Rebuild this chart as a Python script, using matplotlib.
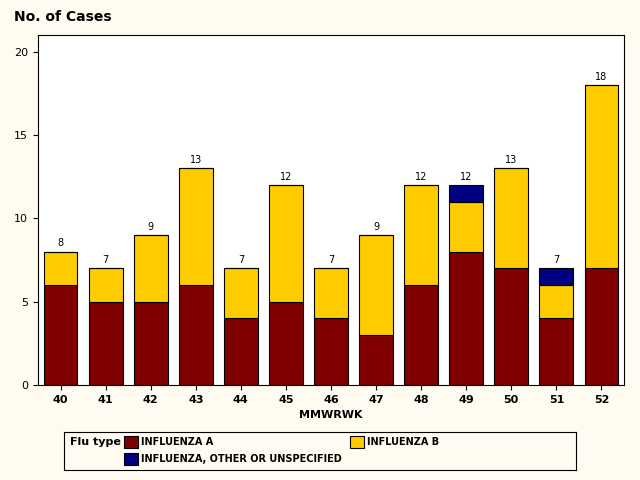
import matplotlib
matplotlib.use("Agg")
from matplotlib import pyplot as plt
from matplotlib.patches import Rectangle

weeks = ["40", "41", "42", "43", "44", "45", "46", "47", "48", "49", "50", "51", "52"]
flu_a = [6, 5, 5, 6, 4, 5, 4, 3, 6, 8, 7, 4, 7]
flu_b = [2, 2, 4, 7, 3, 7, 3, 6, 6, 3, 6, 2, 11]
flu_other = [0, 0, 0, 0, 0, 0, 0, 0, 0, 1, 0, 1, 0]

bg = "#fffbf0"
fig = plt.figure(figsize=(6.4, 4.8), dpi=100, facecolor=bg)
ax = fig.add_axes([38 / 640, 1 - 385 / 480, 586 / 640, 350 / 480])
ax.set_facecolor("white")

x = list(range(len(weeks)))
w = 0.75
ax.bar(x, flu_a, w, color="#800000", edgecolor="black", linewidth=0.8)
ax.bar(x, flu_b, w, bottom=flu_a, color="#ffcc00", edgecolor="black", linewidth=0.8)
bot = [a + b for a, b in zip(flu_a, flu_b)]
ax.bar(x, flu_other, w, bottom=bot, color="#000080", edgecolor="black", linewidth=0.8)
for i in x:
    tot = bot[i] + flu_other[i]
    ax.text(i, tot + 0.2, str(tot), ha="center", va="bottom", fontsize=7)

ax.set_xlim(-0.5, len(weeks) - 0.5)
ax.set_ylim(0, 21)
ax.set_xticks(x)
ax.set_xticklabels(weeks, fontsize=8, fontweight="bold")
ax.set_yticks([0, 5, 10, 15, 20])
ax.tick_params(axis="y", labelsize=8)
ax.set_xlabel("MMWRWK", fontsize=8, fontweight="bold")
fig.text(14 / 640, 1 - 17 / 480, "No. of Cases", fontsize=10, fontweight="bold", va="center")

# legend box
lg = fig.add_axes([64 / 640, 1 - 470 / 480, 512 / 640, 38 / 480])
lg.set_xlim(0, 512)
lg.set_ylim(38, 0)
lg.set_xticks([])
lg.set_yticks([])
lg.set_facecolor(bg)
lg.text(6, 10, "Flu type", fontsize=8, fontweight="bold", va="center")
items = [(60, 10, "#800000", "INFLUENZA A"), (286, 10, "#ffcc00", "INFLUENZA B"),
         (60, 27, "#000080", "INFLUENZA, OTHER OR UNSPECIFIED")]
for lx, ly, c, t in items:
    lg.add_patch(Rectangle((lx, ly - 6), 14, 12, facecolor=c, edgecolor="black", linewidth=0.8))
    lg.text(lx + 17, ly, t, fontsize=7, fontweight="bold", va="center")

fig.savefig("out.png", dpi=100, facecolor=bg)
